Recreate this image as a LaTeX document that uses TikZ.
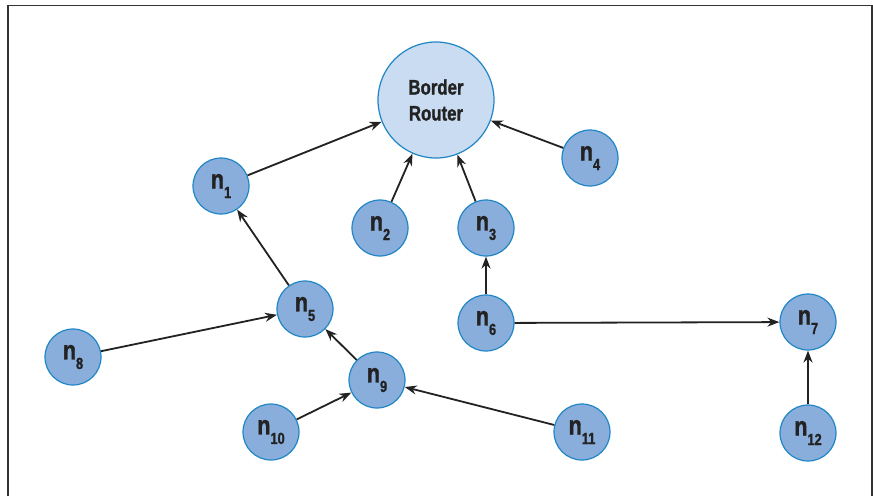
\documentclass[tikz,border=0pt]{standalone}
\usepackage{fontspec}
\newfontfamily\condfont{Liberation Sans}[FakeStretch=0.8, BoldFeatures={FakeBold=1.2}]
\usetikzlibrary{arrows.meta}
\definecolor{nodefill}{HTML}{8AAEDC}
\definecolor{nodeline}{HTML}{1F86C6}
\definecolor{brfill}{HTML}{C9DCF1}
\definecolor{framecol}{HTML}{333333}
\definecolor{textcol}{HTML}{222222}
\begin{document}
\begin{tikzpicture}[x=1pt,y=-1pt,
  mote/.style={circle, draw=nodeline, fill=nodefill, line width=1.2pt, text=textcol,
    minimum size=56pt, inner sep=0pt, font=\condfont\bfseries\fontsize{27}{27}\selectfont},
  router/.style={circle, draw=nodeline, fill=brfill, line width=1.2pt, text=textcol,
    minimum size=116pt, inner sep=0pt, align=center,
    font=\condfont\bfseries\fontsize{21}{26}\selectfont},
  link/.style={-{Stealth[length=12pt,width=9pt]}, line width=1.8pt, textcol}]
\useasboundingbox (0,0) rectangle (873,496);
\fill[white] (0,0) rectangle (873,496);
% frame
\draw[framecol, line width=1.5pt] (8,496) -- (8,5.5) -- (872,5.5) -- (872,496);

% nodes
\node[router] (br) at (436,100) {Border\\Router};
\newcommand{\lbl}[1]{n\raisebox{-0.35em}{\fontsize{16}{16}\selectfont #1}}
\node[mote] (n1) at (221,186) {\lbl{1}};
\node[mote] (n2) at (380,228) {\lbl{2}};
\node[mote] (n3) at (486,228) {\lbl{3}};
\node[mote] (n4) at (590,158) {\lbl{4}};
\node[mote] (n5) at (305,309) {\lbl{5}};
\node[mote] (n6) at (486,323) {\lbl{6}};
\node[mote] (n7) at (808,322) {\lbl{7}};
\node[mote] (n8) at (73,357) {\lbl{8}};
\node[mote] (n9) at (377,380) {\lbl{9}};
\node[mote] (n10) at (271,432) {\lbl{10}};
\node[mote] (n11) at (582,432) {\lbl{11}};
\node[mote] (n12) at (808,433) {\lbl{12}};

% links
\draw[link] (n1) -- (br);
\draw[link] (n2) -- (br);
\draw[link] (n3) -- (br);
\draw[link] (n4) -- (br);
\draw[link] (n5) -- (n1);
\draw[link] (n6) -- (n3);
\draw[link] (n6) -- (n7);
\draw[link] (n8) -- (n5);
\draw[link] (n9) -- (n5);
\draw[link] (n10) -- (n9);
\draw[link] (n11) -- (n9);
\draw[link] (n12) -- (n7);
\end{tikzpicture}
\end{document}
